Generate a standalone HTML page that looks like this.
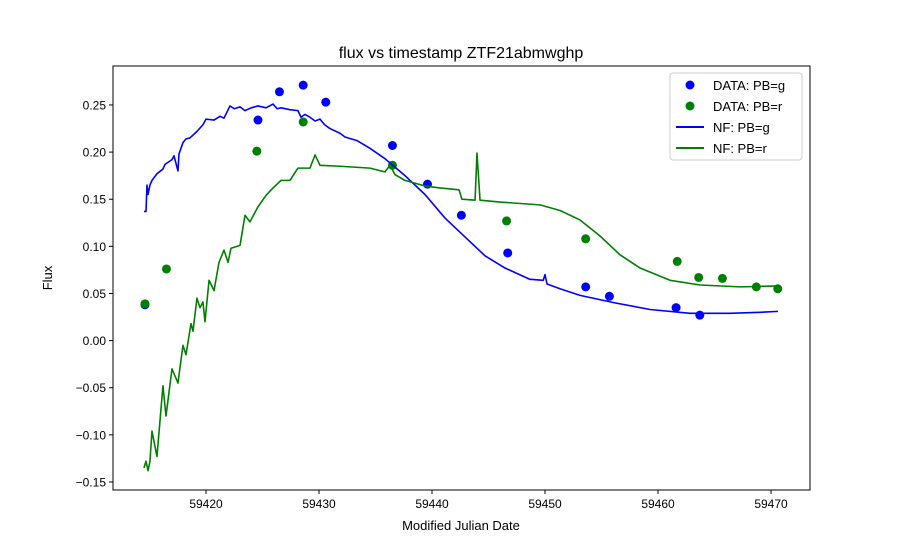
<!DOCTYPE html>
<html><head><meta charset="utf-8"><style>
body{margin:0;background:#fff;}
svg text{font-family:"Liberation Sans","DejaVu Sans",sans-serif;fill:#000;}
</style></head><body>
<svg id="chart" width="900" height="550">
<rect width="900" height="550" fill="#fff"/>
<text x="461" y="58" font-size="16" text-anchor="middle">flux vs timestamp ZTF21abmwghp</text>
<g id="grid"></g>
<g id="marks"></g>
<rect x="113" y="66" width="697" height="424" fill="none" stroke="#000" stroke-width="1"/>
<text x="461" y="530" font-size="13" text-anchor="middle">Modified Julian Date</text>
<text transform="translate(52,278) rotate(-90)" font-size="13" text-anchor="middle">Flux</text>
<g>
<rect x="670" y="73" width="132" height="87" rx="3" fill="#fff" stroke="#ccc"/>
<g><circle cx="690" cy="85" r="4.5" fill="#0000ff"/><text x="713" y="90" font-size="13">DATA: PB=g</text></g>
<g><circle cx="690" cy="106" r="4.5" fill="#008000"/><text x="713" y="111" font-size="13">DATA: PB=r</text></g>
<g><line x1="676" y1="127" x2="704" y2="127" stroke="#0000ff" stroke-width="2"/><text x="713" y="132" font-size="13">NF: PB=g</text></g>
<g><line x1="676" y1="148" x2="704" y2="148" stroke="#008000" stroke-width="2"/><text x="713" y="153" font-size="13">NF: PB=r</text></g>
</g>
</svg>
<script>
const xTicks=[59420,59430,59440,59450,59460,59470];
const yTicks=[-0.15,-0.10,-0.05,0.00,0.05,0.10,0.15,0.20,0.25];
const gDataX=[59414.6,59424.6,59426.5,59428.6,59430.6,59436.5,59439.6,59442.6,59446.7,59453.6,59455.7,59461.6,59463.7];
const gDataY=[0.038,0.234,0.264,0.271,0.253,0.207,0.166,0.133,0.093,0.057,0.047,0.035,0.027];
const rDataX=[59414.6,59416.5,59424.5,59428.6,59436.5,59446.6,59453.6,59461.7,59463.6,59465.7,59468.7,59470.6];
const rDataY=[0.039,0.076,0.201,0.232,0.186,0.127,0.108,0.084,0.067,0.066,0.057,0.055];
const gLineX=[59414.51,59414.69,59414.78,59414.87,59415.04,59415.22,59415.66,59416.19,59416.37,59416.99,59417.17,59417.52,59417.61,59417.96,59418.23,59418.58,59419.2,59419.73,59420,59420.71,59421.24,59421.59,59422.12,59422.5,59423.01,59423.45,59424.0,59424.6,59425.31,59425.93,59426.3,59426.64,59427.43,59428.14,59428.4,59428.76,59429.2,59429.65,59430.09,59430.5,59430.97,59431.86,59432.3,59433.4,59434.51,59435.84,59437.61,59439.38,59441.15,59442.92,59444.69,59446.46,59448.67,59449.85,59450.0,59450.18,59451.33,59453.1,59456.19,59459.29,59462.83,59466.37,59469.03,59470.62];
const gLineY=[0.137,0.137,0.165,0.155,0.165,0.170,0.177,0.182,0.187,0.192,0.196,0.180,0.198,0.210,0.214,0.215,0.222,0.229,0.235,0.234,0.238,0.236,0.249,0.246,0.248,0.244,0.247,0.249,0.247,0.251,0.246,0.247,0.245,0.244,0.237,0.240,0.237,0.233,0.235,0.229,0.225,0.220,0.216,0.212,0.204,0.193,0.175,0.155,0.130,0.110,0.090,0.077,0.065,0.064,0.070,0.060,0.055,0.048,0.040,0.033,0.029,0.029,0.030,0.031];
const rLineX=[59414.51,59414.69,59414.87,59415.04,59415.22,59415.66,59416.19,59416.46,59416.99,59417.52,59417.96,59418.23,59418.67,59418.85,59419.2,59419.47,59419.73,59419.91,59420.27,59420.71,59421.15,59421.59,59421.95,59422.21,59423.01,59423.45,59423.89,59424.6,59425.31,59425.93,59426.64,59427.43,59428.14,59429.2,59429.65,59430.09,59431.86,59434.51,59435.84,59436.28,59436.73,59437.61,59439.38,59440.71,59442.39,59442.65,59443.81,59443.98,59444.25,59446.02,59449.56,59451.33,59453.1,59454.87,59456.64,59458.41,59461.06,59463.72,59467.26,59470.62];
const rLineY=[-0.135,-0.128,-0.138,-0.128,-0.096,-0.123,-0.048,-0.080,-0.030,-0.045,-0.005,-0.015,0.018,0.010,0.045,0.035,0.041,0.020,0.064,0.053,0.083,0.096,0.083,0.098,0.101,0.133,0.126,0.142,0.154,0.162,0.170,0.170,0.183,0.183,0.197,0.186,0.185,0.183,0.179,0.186,0.176,0.170,0.164,0.162,0.160,0.150,0.149,0.199,0.149,0.147,0.144,0.138,0.128,0.111,0.091,0.077,0.064,0.059,0.057,0.058];

const X=v=>206+(v-59420)*11.3;
const Y=v=>340.6-v*942.5;
const NS='http://www.w3.org/2000/svg';
const grid=document.getElementById('grid');
const marks=document.getElementById('marks');
function mk(tag,attrs,parent){const e=document.createElementNS(NS,tag);for(const k in attrs)e.setAttribute(k,attrs[k]);parent.appendChild(e);return e;}
xTicks.forEach(t=>{
  const l=mk('line',{x1:X(t),x2:X(t),y1:490,y2:494,stroke:'#000'},grid);
  
  
  const tx=mk('text',{x:X(t),y:508,'font-size':12,'text-anchor':'middle'},grid);
  tx.textContent=t;
  
  
});
yTicks.forEach(t=>{
  const l=mk('line',{x1:109,x2:113,y1:Y(t),y2:Y(t),stroke:'#000'},grid);
  
  
  const tx=mk('text',{x:106,y:Y(t)+4.5,'font-size':12,'text-anchor':'end'},grid);
  tx.textContent=(t<0?'\u2212':'')+Math.abs(t).toFixed(2);
  
  
});
function line(xs,ys,col,name){
  const p=mk('polyline',{points:xs.map((x,i)=>X(x)+','+Y(ys[i])).join(' '),fill:'none',stroke:col,'stroke-width':1.6,'stroke-linejoin':'round'},marks);
  
  
}
function dots(xs,ys,col,name){
  xs.forEach((x,i)=>{
    const c=mk('circle',{cx:X(x),cy:Y(ys[i]),r:4.5,fill:col},marks);
    
    
  });
}
dots(gDataX,gDataY,'#0000ff','data-point-g');
dots(rDataX,rDataY,'#008000','data-point-r');
line(gLineX,gLineY,'#0000ff','nf-line-g');
line(rLineX,rLineY,'#008000','nf-line-r');
</script>
</body></html>
